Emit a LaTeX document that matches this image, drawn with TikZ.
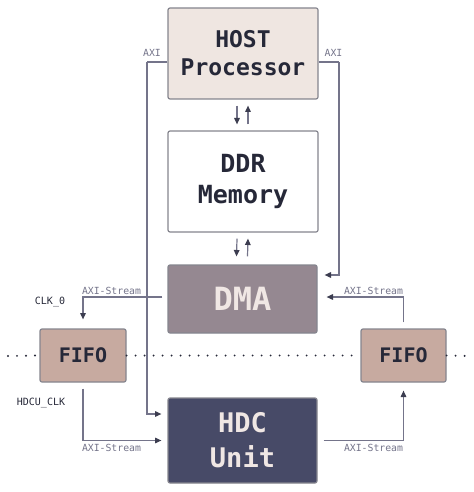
\documentclass[tikz,border=0pt]{standalone}
\usepackage{fontspec}
\setmonofont{DejaVu Sans Mono}
\usetikzlibrary{arrows.meta}

\definecolor{hostfill}{HTML}{EFE6E1}
\definecolor{dmafill}{HTML}{958891}
\definecolor{fifofill}{HTML}{C7AAA0}
\definecolor{hdcfill}{HTML}{474A67}
\definecolor{boxline}{HTML}{85858E}
\definecolor{darktext}{HTML}{262838}
\definecolor{lighttext}{HTML}{F0E7E4}
\definecolor{linkcol}{HTML}{74748A}
\definecolor{tipcol}{HTML}{3C3D50}

\begin{document}
\begin{tikzpicture}[x=0.5pt, y=-0.5pt,
		block/.style={draw=boxline, line width=0.6pt, rounded corners=1pt, inner sep=0pt, align=center, font=\ttfamily\bfseries, text=darktext},
		link/.style={draw=linkcol, line width=0.6pt, -{Triangle[length=3.2pt, width=2.8pt, color=tipcol]}},
		plain/.style={draw=linkcol, line width=0.6pt},
		lbl/.style={font=\ttfamily\fontsize{4.9}{5}\selectfont, text=linkcol, inner sep=0pt},
		clk/.style={font=\ttfamily\fontsize{5}{6}\selectfont, text=darktext, inner sep=0pt},
		dots/.style={draw=darktext, line width=1.1pt, line cap=round, dash pattern=on 0pt off 4.5pt}]
		\useasboundingbox (0, 0) rectangle (474, 492);
	
		\node[block, fill=hostfill, minimum width=75pt, minimum height=45.5pt, font=\ttfamily\bfseries\fontsize{11.5}{14}\selectfont] (host) at (243, 53.5) {HOST\\Processor};
		\node[block, fill=white, minimum width=75pt, minimum height=50.5pt, font=\ttfamily\bfseries\fontsize{12.5}{15.5}\selectfont] (ddr) at (243, 181.5) {DDR\\Memory};
		\node[block, fill=dmafill, text=lighttext, minimum width=74.5pt, minimum height=34pt, font=\ttfamily\bfseries\fontsize{16}{18}\selectfont] (dma) at (242.5, 299) {DMA};
		\node[block, fill=hdcfill, text=lighttext, minimum width=74.5pt, minimum height=42.5pt, font=\ttfamily\bfseries\fontsize{13.5}{17.5}\selectfont] (hdc) at (242.5, 440.5) {HDC\\Unit};
		\node[block, fill=fifofill, minimum width=43pt, minimum height=26.5pt, font=\ttfamily\bfseries\fontsize{10}{12}\selectfont] (fifol) at (83, 355.5) {FIFO};
		\node[block, fill=fifofill, minimum width=42.5pt, minimum height=26.5pt, font=\ttfamily\bfseries\fontsize{10}{12}\selectfont] (fifor) at (403.5, 355.5) {FIFO};
		
		\coordinate (dotl) at (8, 356);
		\coordinate (dotr) at (467, 356);
		\draw[dots] (dotl) -- (fifol.west);
		\draw[dots] (fifol.east) -- (fifor.west);
		\draw[dots] (fifor.east) -- (dotr);
		
		\draw[link] ([xshift=-3pt, yshift=-3pt]host.south) -- ([xshift=-3pt, yshift=3pt]ddr.north);
		\draw[link] ([xshift=2.5pt, yshift=3pt]ddr.north) -- ([xshift=2.5pt, yshift=-3pt]host.south);
		\draw[link] ([xshift=-3pt, yshift=-3pt]ddr.south) -- ([xshift=-3pt, yshift=4pt]dma.north);
		\draw[link] ([xshift=2.5pt, yshift=4pt]dma.north) -- ([xshift=2.5pt, yshift=-3pt]ddr.south);
		
		\coordinate (axil) at (147, 62);
		\coordinate (axir) at (339, 62);
		\draw[plain] ([yshift=-4.25pt]host.west) -- (axil);
		\draw[link] (axil) |- ([xshift=-3pt, yshift=13.25pt]hdc.west);
		\draw[plain] ([yshift=-4.25pt]host.east) -- (axir);
		\draw[link] (axir) |- ([xshift=3.5pt, yshift=12pt]dma.east);
		
		\draw[link] ([xshift=-2.5pt, yshift=1pt]dma.west) -| ([yshift=4.5pt]fifol.north);
		\draw[link] ([yshift=3pt]fifor.north) |- ([xshift=4.5pt, yshift=1pt]dma.east);
		\draw[link] ([yshift=-3pt]fifol.south) |- ([xshift=-3pt]hdc.west);
		\draw[link] ([xshift=3pt]hdc.east) -| ([yshift=-4pt]fifor.south);
		
		\node[lbl] (axilabl) at (152, 53) {AXI};
		\node[lbl] (axilabr) at (333.5, 53) {AXI};
		\node[lbl] (streamtl) at (111.5, 291) {AXI-Stream};
		\node[lbl] (streamtr) at (373.5, 291) {AXI-Stream};
		\node[lbl] (streambl) at (111.5, 448) {AXI-Stream};
		\node[lbl] (streambr) at (373.5, 448) {AXI-Stream};
		\node[clk] (clkzero) at (50, 302) {CLK\_0};
		\node[clk] (clkhdcu) at (41, 403) {HDCU\_CLK};
	\end{tikzpicture}
\end{document}
